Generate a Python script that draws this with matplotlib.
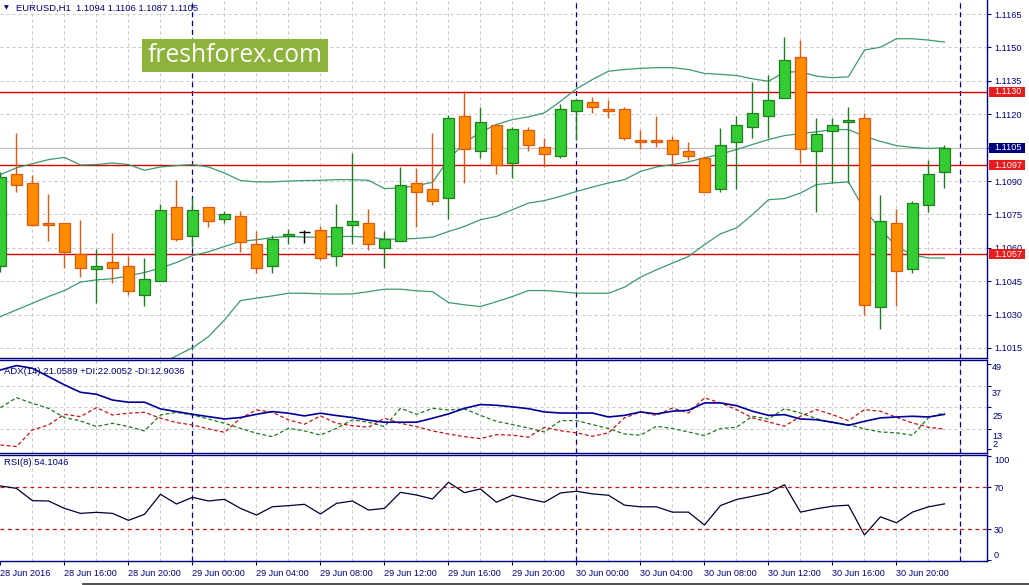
import matplotlib
matplotlib.use('Agg')
import matplotlib.pyplot as plt
from matplotlib.patches import Rectangle
from matplotlib.lines import Line2D
import matplotlib.transforms as mtransforms

plt.rcParams['font.family'] = ['Liberation Sans', 'DejaVu Sans']

# EURUSD H1, 28 Jun 12:00 .. 30 Jun 23:00
opens = [1.10520, 1.10933, 1.10892, 1.10713, 1.10713, 1.10574, 1.10503, 1.10534, 1.10520, 1.10390,
         1.10453, 1.10785, 1.10655, 1.10785, 1.10731, 1.10744, 1.10615, 1.10520, 1.10655, 1.10670,
         1.10682, 1.10561, 1.10704, 1.10713, 1.10601, 1.10632, 1.10892, 1.10865, 1.10825, 1.11194,
         1.11036, 1.11152, 1.10982, 1.11127, 1.11054, 1.11012, 1.11215, 1.11255, 1.11224, 1.11224,
         1.11085, 1.11085, 1.11085, 1.11036, 1.11004, 1.10865, 1.11074, 1.11141, 1.11191, 1.11273,
         1.11458, 1.11036, 1.11125, 1.11165, 1.11184, 1.10332, 1.10713, 1.10503, 1.10794, 1.10940]
highs = [1.10940, 1.11115, 1.10925, 1.10843, 1.10713, 1.10723, 1.10594, 1.10667, 1.10564, 1.10552,
         1.10795, 1.10903, 1.10825, 1.10785, 1.10764, 1.10764, 1.10674, 1.10656, 1.10683, 1.10679,
         1.10697, 1.10795, 1.11025, 1.10773, 1.10674, 1.10965, 1.10958, 1.11115, 1.11195, 1.11303,
         1.11234, 1.11152, 1.11143, 1.11143, 1.11094, 1.11246, 1.11268, 1.11276, 1.11266, 1.11231,
         1.11127, 1.11192, 1.11103, 1.11077, 1.11013, 1.11137, 1.11194, 1.11346, 1.11378, 1.11548,
         1.11534, 1.11184, 1.11184, 1.11234, 1.11206, 1.10835, 1.10773, 1.10812, 1.10995, 1.11060]
lows = [1.10490, 1.10850, 1.10700, 1.10631, 1.10510, 1.10470, 1.10350, 1.10444, 1.10390, 1.10340,
        1.10453, 1.10631, 1.10604, 1.10693, 1.10711, 1.10581, 1.10485, 1.10485, 1.10615, 1.10622,
        1.10543, 1.10519, 1.10615, 1.10592, 1.10510, 1.10632, 1.10693, 1.10791, 1.10731, 1.10890,
        1.11004, 1.10930, 1.10915, 1.11034, 1.10962, 1.11005, 1.11085, 1.11206, 1.11182, 1.11085,
        1.11042, 1.11052, 1.10973, 1.10994, 1.10852, 1.10850, 1.10862, 1.11094, 1.11092, 1.11273,
        1.10980, 1.10759, 1.10890, 1.10890, 1.10299, 1.10234, 1.10340, 1.10485, 1.10759, 1.10870]
closes = [1.10920, 1.10883, 1.10704, 1.10704, 1.10581, 1.10511, 1.10520, 1.10511, 1.10404, 1.10462,
          1.10771, 1.10641, 1.10771, 1.10722, 1.10753, 1.10624, 1.10511, 1.10641, 1.10664, 1.10670,
          1.10552, 1.10695, 1.10722, 1.10615, 1.10641, 1.10882, 1.10852, 1.10812, 1.11184, 1.11045,
          1.11166, 1.10973, 1.11134, 1.11063, 1.11022, 1.11224, 1.11264, 1.11231, 1.11215, 1.11094,
          1.11076, 1.11076, 1.11022, 1.11013, 1.10852, 1.11063, 1.11152, 1.11206, 1.11264, 1.11443,
          1.11045, 1.11112, 1.11150, 1.11174, 1.10341, 1.10722, 1.10494, 1.10803, 1.10933, 1.11050]

bb_upper = [1.10929, 1.10959, 1.10978, 1.10996, 1.11006, 1.10972, 1.10974, 1.10981, 1.10974, 1.10948,
            1.10963, 1.10969, 1.10974, 1.10963, 1.10936, 1.10902, 1.10896, 1.10896, 1.10900, 1.10902,
            1.10903, 1.10906, 1.10906, 1.10903, 1.10866, 1.10869, 1.10879, 1.10894, 1.10996, 1.11073,
            1.11118, 1.11154, 1.11176, 1.11188, 1.11206, 1.11258, 1.11314, 1.11356, 1.11393, 1.11401,
            1.11406, 1.11409, 1.11409, 1.11401, 1.11383, 1.11379, 1.11374, 1.11359, 1.11348, 1.11389,
            1.11391, 1.11371, 1.11364, 1.11368, 1.11488, 1.11501, 1.11539, 1.11539, 1.11533, 1.11524]
bb_middle = [1.10291, 1.10321, 1.10351, 1.10381, 1.10408, 1.10446, 1.10456, 1.10461, 1.10474, 1.10489,
             1.10509, 1.10534, 1.10565, 1.10582, 1.10606, 1.10629, 1.10636, 1.10646, 1.10651, 1.10648,
             1.10648, 1.10651, 1.10651, 1.10648, 1.10639, 1.10639, 1.10642, 1.10648, 1.10673, 1.10696,
             1.10726, 1.10741, 1.10771, 1.10801, 1.10812, 1.10831, 1.10853, 1.10873, 1.10891, 1.10906,
             1.10943, 1.10963, 1.10974, 1.10986, 1.11004, 1.11021, 1.11041, 1.11064, 1.11086, 1.11104,
             1.11113, 1.11121, 1.11131, 1.11131, 1.11101, 1.11078, 1.11059, 1.11051, 1.11046, 1.11049]
bb_lower = [1.09655, 1.09682, 1.09723, 1.09768, 1.09808, 1.09916, 1.09939, 1.09939, 1.09975, 1.10029,
            1.10078, 1.10115, 1.10151, 1.10201, 1.10276, 1.10363, 1.10374, 1.10384, 1.10396, 1.10396,
            1.10393, 1.10392, 1.10393, 1.10403, 1.10414, 1.10414, 1.10407, 1.10403, 1.10354, 1.10344,
            1.10336, 1.10358, 1.10381, 1.10408, 1.10408, 1.10403, 1.10396, 1.10396, 1.10396, 1.10423,
            1.10468, 1.10501, 1.10531, 1.10561, 1.10614, 1.10663, 1.10689, 1.10749, 1.10816, 1.10821,
            1.10846, 1.10884, 1.10891, 1.10896, 1.10771, 1.10684, 1.10606, 1.10569, 1.10554, 1.10554]

adx = [45.7, 48.1, 46.6, 42.0, 37.4, 33.3, 32.2, 29.0, 27.8, 27.8, 24.1, 22.6, 21.1, 19.8, 18.5,
       19.3, 21.1, 22.6, 21.7, 20.2, 21.7, 20.4, 19.3, 17.8, 16.7, 16.7, 16.7, 18.9, 21.3, 24.4,
       26.5, 26.1, 25.2, 24.2, 22.4, 21.8, 21.8, 21.8, 19.6, 20.5, 22.4, 21.3, 22.8, 23.3, 27.4,
       27.4, 25.9, 22.8, 20.5, 20.9, 18.5, 18.1, 16.7, 15.0, 17.2, 19.1, 19.6, 20.0, 19.6, 21.06]
plus_di = [24.8, 30.3, 27.2, 24.4, 19.3, 17.4, 14.3, 16.1, 14.3, 11.9, 20.7, 22.2, 20.7, 18.5, 16.1,
           13.3, 10.6, 8.7, 13.3, 11.9, 9.6, 13.3, 18.0, 16.7, 14.3, 24.4, 21.1, 24.4, 23.5, 24.1,
           20.5, 17.2, 15.4, 13.5, 11.3, 17.6, 17.6, 15.4, 13.2, 10.2, 9.5, 14.5, 13.2, 11.3, 9.3,
           13.2, 13.9, 20.0, 18.5, 24.2, 21.8, 18.7, 16.3, 15.4, 13.0, 11.3, 10.8, 9.5, 19.1, 22.0]
minus_di = [4.1, 3.2, 12.4, 15.2, 21.1, 19.8, 24.8, 20.7, 21.7, 22.2, 18.9, 16.5, 15.2, 13.0, 11.1,
            18.9, 23.5, 22.2, 18.0, 15.6, 20.2, 16.1, 14.8, 13.9, 18.9, 16.1, 14.3, 11.9, 10.2, 8.7,
            7.6, 9.8, 9.5, 8.4, 13.9, 12.0, 10.8, 8.9, 10.8, 19.1, 22.4, 20.5, 24.6, 21.8, 30.2,
            27.4, 23.7, 19.1, 16.9, 14.5, 20.0, 23.7, 20.9, 17.6, 23.7, 22.8, 19.4, 16.3, 13.9, 12.9]
rsi = [71.3, 69.0, 57.2, 56.9, 49.8, 45.0, 46.0, 45.0, 38.3, 44.1, 63.3, 54.0, 60.4, 56.9, 58.5,
       49.8, 43.4, 51.4, 52.4, 53.7, 44.4, 54.6, 56.9, 48.2, 49.8, 65.2, 62.6, 58.8, 74.8, 64.9,
       68.4, 55.7, 62.4, 58.9, 55.7, 64.6, 66.2, 63.7, 62.4, 52.9, 51.3, 51.3, 46.2, 46.2, 33.8,
       52.5, 58.3, 61.4, 64.6, 72.5, 46.2, 49.4, 51.9, 52.9, 24.3, 41.7, 36.0, 46.2, 51.3, 54.1]

level_prices = [1.1130, 1.1097, 1.1057]
price_ticks = [1.1015, 1.1030, 1.1045, 1.1060, 1.1075, 1.1090, 1.1105, 1.1120, 1.1135, 1.1150, 1.1165]
adx_ticks = [49, 37, 25, 13, 2]
time_labels = ['28 Jun 2016', '28 Jun 16:00', '28 Jun 20:00', '29 Jun 00:00', '29 Jun 04:00',
               '29 Jun 08:00', '29 Jun 12:00', '29 Jun 16:00', '29 Jun 20:00', '30 Jun 00:00',
               '30 Jun 04:00', '30 Jun 08:00', '30 Jun 12:00', '30 Jun 16:00', '30 Jun 20:00']
day_starts = [12, 36, 60]

NAVY = '#000080'
GRID = '#c8c8c8'
RED = '#d40000'
W, H = 1029, 585

fig = plt.figure(figsize=(W / 100, H / 100), dpi=100)
fig.patch.set_facecolor('white')


def px_axes(top, bottom):
    return fig.add_axes([0, (H - bottom) / H, 987 / W, (bottom - top) / H])


ax = px_axes(0, 358)
ax_adx = px_axes(360, 452.7)
ax_rsi = px_axes(454.7, 560.7)

n = len(closes)
xs = list(range(n))
xlim = (-0.03, 61.66)

for a in (ax, ax_adx, ax_rsi):
    a.set_xlim(*xlim)
    a.set_facecolor('white')
    for s in ('left',):
        a.spines[s].set_visible(False)
    for s in ('top', 'bottom', 'right'):
        a.spines[s].set_color(NAVY)
        a.spines[s].set_linewidth(1.0)
    a.yaxis.tick_right()
    a.tick_params(axis='y', colors=NAVY, labelcolor=NAVY, length=3, width=0.8,
                  labelsize=6.6, pad=2)
    a.tick_params(axis='x', bottom=False, labelbottom=False)
    # vertical grid every 2 bars
    for gx in range(2, 62, 2):
        a.axvline(gx, color=GRID, lw=0.72, ls=(0, (3, 3)), zorder=0)
    for d in day_starts:
        a.axvline(d, color=NAVY, lw=0.9, ls=(0, (4, 3)), zorder=1)
ax.spines['top'].set_visible(False)

# ---- main price panel ----
ax.set_ylim(1.10105, 1.11713)
for p in price_ticks:
    ax.axhline(p, color=GRID, lw=0.72, ls=(0, (3, 3)), zorder=0)
ax.set_yticks(price_ticks)
ax.set_yticklabels(['%.4f' % p for p in price_ticks])

ax.axhline(closes[-1], color='#c0c0c0', lw=0.9, zorder=1)
for lp in level_prices:
    ax.axhline(lp, color=RED, lw=1.0, zorder=2)

band_col = '#3c9a6c'
ax.plot(xs, bb_upper, color=band_col, lw=0.9, zorder=2)
ax.plot(xs, bb_middle, color=band_col, lw=0.9, zorder=2)
ax.plot(xs, bb_lower, color=band_col, lw=0.9, zorder=2)

body_w = 0.64
for i in xs:
    o, h, l, c = opens[i], highs[i], lows[i], closes[i]
    if c > o:
        fill, edge = '#33cc33', '#1f7f1f'
    elif c < o:
        fill, edge = '#ff8c00', '#e2560f'
    else:
        ax.vlines(i, l, h, color='black', lw=1.0, zorder=3)
        ax.hlines(o, i - body_w / 2, i + body_w / 2, color='black', lw=1.0, zorder=3)
        continue
    ax.vlines(i, l, h, color=edge, lw=1.0, zorder=3)
    ax.bar(i, abs(c - o), bottom=min(o, c), width=body_w, color=fill,
           edgecolor=edge, linewidth=0.9, zorder=4)

# price labels on the right axis
lab_tr = mtransforms.blended_transform_factory(ax.transAxes, ax.transData)
box_h = 10 * (1.11713 - 1.10105) / 358
for lp, bg in [(level_prices[0], '#e81c1c'), (level_prices[1], '#e81c1c'),
               (level_prices[2], '#e81c1c'), (closes[-1], NAVY)]:
    ax.add_patch(Rectangle((989 / 987, lp - box_h / 2), 36 / 987, box_h, transform=lab_tr,
                           facecolor=bg, edgecolor='none', clip_on=False, zorder=10))
    ax.text(994 / 987, lp, '%.4f' % lp, transform=lab_tr, color='white', fontsize=6.6,
            va='center', ha='left', clip_on=False, zorder=11)

ax.text(4 / 987, 1 - 8 / 358, '\u25bc', transform=ax.transAxes, fontsize=4.5, color=NAVY,
        va='center', ha='left', family=['DejaVu Sans'])
ax.text(16 / 987, 1 - 8 / 358, 'EURUSD,H1  1.1094 1.1106 1.1087 1.1105', transform=ax.transAxes,
        fontsize=6.8, color=NAVY, va='center', ha='left')

# watermark
fig.add_artist(Rectangle((142 / W, 1 - 72 / H), 186 / W, 33 / H, transform=fig.transFigure,
                         facecolor='#8db33c', edgecolor='none', zorder=20))
fig.text(235 / W, 1 - 56 / H, 'freshforex.com', color='white', fontsize=17.7,
         family=['Open Sans', 'DejaVu Sans'], ha='center', va='center', zorder=21)

# ---- ADX panel ----
ax_adx.set_ylim(-0.2, 51.2)
for g in (37, 25, 13):
    ax_adx.axhline(g, color=GRID, lw=0.72, ls=(0, (3, 3)), zorder=0)
ax_adx.plot(xs, adx, color='#000099', lw=1.2, zorder=3)
ax_adx.plot(xs, plus_di, color='#1a7a1a', lw=0.9, ls=(0, (3, 2)), zorder=2)
ax_adx.plot(xs, minus_di, color='#cc1111', lw=0.9, ls=(0, (3, 2)), zorder=2)
ax_adx.set_yticks(adx_ticks)
ax_adx.set_yticklabels([])
for v, dy in zip(adx_ticks, [-4, -8, -9, -8, 4]):
    tr = mtransforms.offset_copy(ax_adx.transData, fig=fig, x=0, y=dy * 0.72, units='points')
    tr = mtransforms.blended_transform_factory(
        mtransforms.offset_copy(ax_adx.transAxes, fig=fig, x=0, y=0, units='points'), tr)
    ax_adx.text(992 / 987, v, str(v), transform=tr, fontsize=6.6, color=NAVY,
                va='center', ha='left', clip_on=False)
ax_adx.text(4 / 987, (452.7 - 371) / 92.7, 'ADX(14) 21.0589 +DI:22.0052 -DI:12.9036',
            transform=ax_adx.transAxes, fontsize=6.8, color=NAVY, va='center', ha='left')

# ---- RSI panel ----
ax_rsi.set_ylim(-0.4, 101.3)
ax_rsi.axhline(70, color='#cc1111', lw=0.9, ls=(0, (3, 3)), zorder=1)
ax_rsi.axhline(30, color='#cc1111', lw=0.9, ls=(0, (3, 3)), zorder=1)
ax_rsi.plot(xs, rsi, color='#000033', lw=0.9, zorder=3)
ax_rsi.set_yticks([0, 30, 70, 100])
ax_rsi.set_yticklabels(['0', '30', '70', '100'])
ylabs = ax_rsi.get_yticklabels()
ylabs[0].set_va('bottom')
ylabs[3].set_va('top')
ax_rsi.text(4 / 987, (560.7 - 463) / 106, 'RSI(8) 54.1046', transform=ax_rsi.transAxes,
            fontsize=6.8, color=NAVY, va='center', ha='left')

ax_rsi.set_xticks(list(range(0, 60, 4)))
ax_rsi.set_xticklabels(time_labels, ha='left')
ax_rsi.tick_params(axis='x', bottom=True, labelbottom=True, colors=NAVY, labelcolor=NAVY,
                   length=3, width=0.8, labelsize=6.6, pad=3)

fig.add_artist(Line2D([83 / W, 1], [0.6 / H, 0.6 / H], transform=fig.transFigure,
                      color='#303030', lw=1.2))

fig.savefig('out.png', dpi=100)
